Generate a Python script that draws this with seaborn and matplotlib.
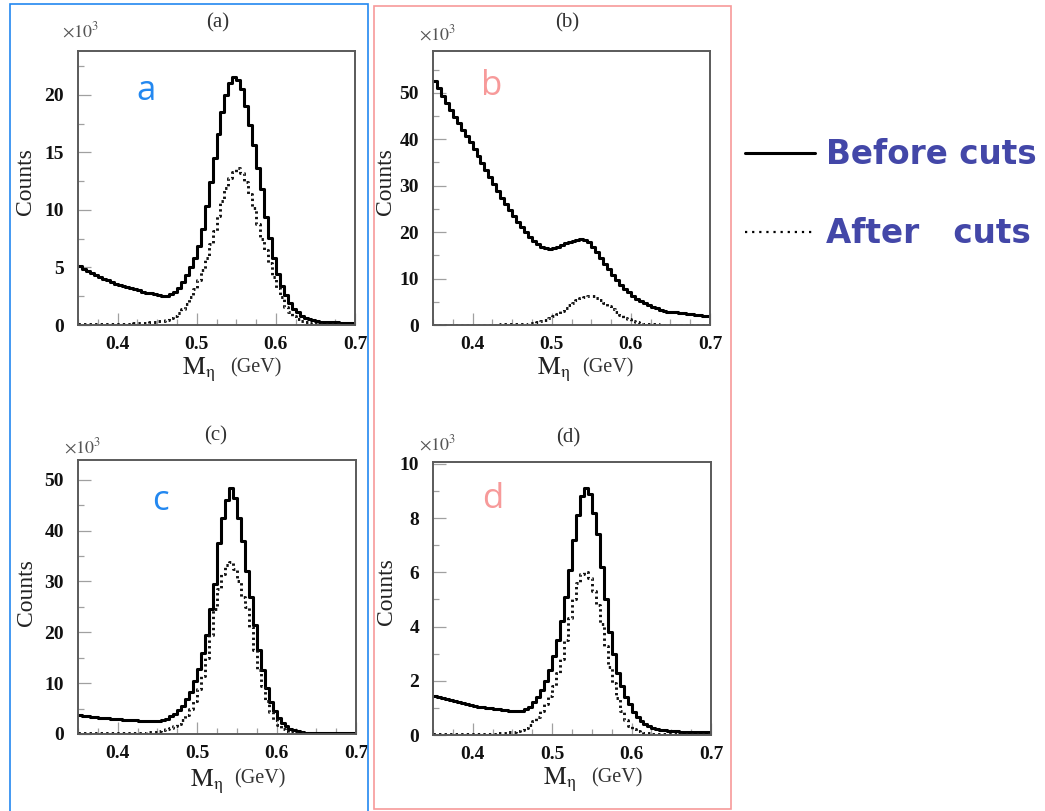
import numpy as np
import pandas as pd
import matplotlib
matplotlib.use("Agg")
import matplotlib.pyplot as plt
from matplotlib.lines import Line2D
from matplotlib.patches import Rectangle
from matplotlib.ticker import MultipleLocator, FormatStrFormatter
import seaborn as sns

# Invariant-mass binning (GeV): 70 bins of 5 MeV from 0.35 to 0.70
n_bins = 70
mass_lo = 0.35
bin_w = 0.005
bin_edges = [round(mass_lo + bin_w * i, 4) for i in range(n_bins + 1)]
bin_centers = [round(0.5 * (bin_edges[i] + bin_edges[i + 1]), 5) for i in range(n_bins)]

# Counts per bin, in units of 10^3
before_a = [5.1, 4.9, 4.7, 4.5, 4.3, 4.2, 4.0, 3.9, 3.75, 3.6,
            3.5, 3.4, 3.3, 3.2, 3.1, 3.0, 2.9, 2.8, 2.75, 2.65,
            2.6, 2.55, 2.55, 2.7, 2.9, 3.2, 3.7, 4.3, 5.0, 5.8,
            6.9, 8.3, 10.3, 12.4, 14.5, 16.6, 18.5, 20.0, 21.0, 21.5,
            21.3, 20.5, 19.0, 17.4, 15.6, 13.6, 11.8, 9.4, 7.6, 5.8,
            4.4, 3.4, 2.6, 1.9, 1.4, 1.1, 0.8, 0.6, 0.5, 0.4,
            0.35, 0.3, 0.27, 0.25, 0.23, 0.22, 0.21, 0.2, 0.2, 0.2]
after_a = [0.05, 0.05, 0.05, 0.06, 0.06, 0.07, 0.07, 0.08, 0.09, 0.1,
           0.1, 0.11, 0.12, 0.13, 0.15, 0.17, 0.19, 0.21, 0.24, 0.28,
           0.32, 0.38, 0.46, 0.58, 0.75, 1.0, 1.35, 1.8, 2.4, 3.1,
           3.9, 4.8, 5.8, 7.0, 8.2, 9.5, 10.8, 11.9, 12.8, 13.3,
           13.6, 13.2, 12.4, 11.4, 10.2, 8.8, 7.5, 6.5, 5.4, 4.2,
           3.2, 2.4, 1.6, 1.1, 0.8, 0.55, 0.38, 0.26, 0.18, 0.13,
           0.1, 0.08, 0.07, 0.06, 0.05, 0.05, 0.04, 0.04, 0.04, 0.04]

before_b = [52.5, 51.0, 49.4, 47.8, 46.3, 44.8, 43.4, 42.0, 40.6, 39.3,
            37.9, 36.3, 34.8, 33.3, 31.8, 30.3, 28.9, 27.4, 26.0, 24.7,
            23.4, 22.2, 21.0, 20.0, 19.0, 18.1, 17.4, 16.9, 16.5, 16.4,
            16.6, 16.9, 17.3, 17.6, 17.8, 18.0, 18.3, 18.5, 18.4, 17.8,
            16.9, 15.7, 14.5, 13.2, 12.0, 10.8, 9.7, 8.7, 7.8, 7.0,
            6.3, 5.7, 5.2, 4.7, 4.3, 3.9, 3.6, 3.3, 3.1, 2.9,
            2.8, 2.7, 2.6, 2.5, 2.4, 2.3, 2.2, 2.1, 2.0, 1.9]
after_b = [0.05, 0.05, 0.05, 0.05, 0.05, 0.05, 0.05, 0.05, 0.06, 0.06,
           0.06, 0.07, 0.07, 0.08, 0.08, 0.09, 0.1, 0.11, 0.12, 0.14,
           0.16, 0.19, 0.23, 0.28, 0.36, 0.47, 0.62, 0.85, 1.1, 1.45,
           1.9, 2.4, 3.0, 3.6, 4.2, 4.8, 5.35, 5.8, 6.1, 6.25,
           6.2, 5.9, 5.4, 4.8, 4.1, 3.4, 2.7, 2.1, 1.6, 1.2,
           0.85, 0.6, 0.42, 0.3, 0.22, 0.16, 0.12, 0.1, 0.08, 0.07,
           0.06, 0.05, 0.05, 0.05, 0.04, 0.04, 0.04, 0.04, 0.03, 0.03]

before_c = [3.7, 3.6, 3.5, 3.4, 3.3, 3.2, 3.1, 3.05, 3.0, 2.95,
            2.9, 2.85, 2.8, 2.75, 2.7, 2.65, 2.6, 2.55, 2.55, 2.6,
            2.65, 2.8, 3.0, 3.5, 4.0, 4.7, 5.5, 6.8, 8.3, 10.4,
            12.8, 16.0, 19.5, 24.5, 29.5, 37.5, 42.5, 46.0, 48.3, 46.5,
            42.5, 38.0, 32.0, 27.0, 21.5, 16.5, 12.5, 9.0, 6.3, 4.5,
            3.2, 2.2, 1.5, 1.0, 0.7, 0.5, 0.35, 0.28, 0.23, 0.2,
            0.18, 0.17, 0.16, 0.15, 0.15, 0.14, 0.14, 0.13, 0.13, 0.13]
after_c = [0.1, 0.1, 0.1, 0.1, 0.1, 0.1, 0.12, 0.12, 0.13, 0.14,
           0.15, 0.16, 0.18, 0.2, 0.22, 0.25, 0.28, 0.32, 0.38, 0.45,
           0.55, 0.7, 0.9, 1.15, 1.5, 2.0, 2.8, 3.8, 5.0, 6.5,
           8.8, 11.5, 15.0, 19.5, 24.5, 28.5, 31.5, 33.3, 33.8, 32.5,
           30.0, 27.0, 25.0, 21.0, 16.5, 12.5, 9.5, 6.5, 4.3, 2.8,
           1.7, 1.0, 0.6, 0.35, 0.22, 0.15, 0.11, 0.09, 0.08, 0.07,
           0.06, 0.06, 0.05, 0.05, 0.05, 0.05, 0.04, 0.04, 0.04, 0.04]

before_d = [1.45, 1.42, 1.38, 1.34, 1.3, 1.26, 1.22, 1.18, 1.14, 1.1,
            1.08, 1.05, 1.02, 1.0, 0.98, 0.96, 0.95, 0.93, 0.92, 0.9,
            0.88, 0.88, 0.9, 0.95, 1.05, 1.2, 1.4, 1.65, 2.0, 2.4,
            2.9, 3.5, 4.2, 5.1, 6.1, 7.2, 8.1, 8.8, 9.1, 8.9,
            8.2, 7.4, 6.2, 5.0, 3.8, 3.0, 2.3, 1.8, 1.4, 1.15,
            0.85, 0.65, 0.5, 0.4, 0.32, 0.26, 0.22, 0.19, 0.17, 0.15,
            0.14, 0.13, 0.12, 0.12, 0.11, 0.11, 0.1, 0.1, 0.1, 0.1]
after_d = [0.02, 0.02, 0.02, 0.02, 0.02, 0.02, 0.02, 0.03, 0.03, 0.03,
           0.03, 0.04, 0.04, 0.04, 0.05, 0.05, 0.06, 0.07, 0.08, 0.1,
           0.12, 0.15, 0.2, 0.27, 0.37, 0.5, 0.68, 0.9, 1.15, 1.45,
           1.8, 2.3, 2.8, 3.5, 4.3, 5.0, 5.6, 5.95, 6.0, 5.8,
           5.3, 4.8, 4.1, 3.3, 2.5, 1.9, 1.35, 0.9, 0.55, 0.35,
           0.22, 0.14, 0.1, 0.08, 0.06, 0.05, 0.04, 0.04, 0.03, 0.03,
           0.03, 0.03, 0.02, 0.02, 0.02, 0.02, 0.02, 0.02, 0.02, 0.02]

panel_titles = ["(a)", "(b)", "(c)", "(d)"]
panel_tags = ["a", "b", "c", "d"]
x_ticks = [0.4, 0.5, 0.6, 0.7]
legend_labels = ["Before cuts", "After   cuts"]

sns.set_theme(style="white")
plt.rcParams["font.family"] = ["Liberation Serif", "DejaVu Serif"]
plt.rcParams["mathtext.fontset"] = "stix"

W, H = 1045, 811
fig = plt.figure(figsize=(W / 100, H / 100), dpi=100)
fig.patch.set_facecolor("white")


def fx(px):
    return px / W


def fy(py):
    return 1 - py / H


BLUE = "#2388f0"
PINK = "#f79a9a"
INK = "#4347a8"
DOTS = (0, (0.8, 1.1))

panels = [
    # box = (left, top, right, bottom) in pixels, plus per-panel layout details
    dict(box=(78, 51, 355, 325), before=before_a, after=after_a, ymax=23.8, major=5, minor=2.5,
         title=(218, 23), exp=(62, 37), ylab=(-0.150, 0.522), mx=(0.375, 0.549, -0.182),
         tag=(146, 100), tagcolor=BLUE),
    dict(box=(433, 51, 710, 325), before=before_b, after=after_b, ymax=59.0, major=10, minor=5,
         title=(567, 23), exp=(419, 40), ylab=(-0.132, 0.522), mx=(0.375, 0.540, -0.182),
         tag=(492, 95), tagcolor=PINK),
    dict(box=(78, 460, 356, 734), before=before_c, after=after_c, ymax=53.9, major=10, minor=5,
         title=(216, 436), exp=(64, 453), ylab=(-0.149, 0.518), mx=(0.403, 0.560, -0.190),
         tag=(160, 510), tagcolor=BLUE),
    dict(box=(433, 462, 711, 735), before=before_d, after=after_d, ymax=10.07, major=2, minor=1,
         title=(568, 438), exp=(419, 450), ylab=(-0.131, 0.524), mx=(0.396, 0.568, -0.182),
         tag=(493, 508), tagcolor=PINK),
]

for p, title, tag in zip(panels, panel_titles, panel_tags):
    l, t, r, b = p["box"]
    ax = fig.add_axes([fx(l), fy(b), (r - l) / W, (b - t) / H])
    df = pd.DataFrame({"mass": bin_centers, "before": p["before"], "after": p["after"]})
    sns.histplot(data=df, x="mass", weights="before", bins=bin_edges, element="step",
                 fill=False, color="black", linewidth=2.2, ax=ax)
    sns.histplot(data=df, x="mass", weights="after", bins=bin_edges, element="step",
                 fill=False, color="#111111", linewidth=2.1, linestyle=DOTS, ax=ax)

    ax.set_xlim(0.35, 0.70)
    ax.set_ylim(0, p["ymax"])
    ax.set_xticks(x_ticks)
    ax.xaxis.set_major_formatter(FormatStrFormatter("%.1f"))
    ax.xaxis.set_minor_locator(MultipleLocator(0.025))
    ax.yaxis.set_major_locator(MultipleLocator(p["major"]))
    ax.yaxis.set_minor_locator(MultipleLocator(p["minor"]))
    ax.yaxis.set_major_formatter(FormatStrFormatter("%d"))
    ax.tick_params(which="both", direction="in", color="#a0a0a0", width=0.9,
                   labelsize=14, labelcolor="#111111", top=False, right=False,
                   bottom=True, left=True)
    ax.tick_params(which="major", length=9)
    ax.tick_params(which="minor", length=4.5)
    ax.tick_params(axis="y", pad=10)
    ax.tick_params(axis="x", pad=8)
    for lab in ax.get_xticklabels() + ax.get_yticklabels():
        lab.set_fontweight("bold")
    for s in ax.spines.values():
        s.set_color("#5a5a5a")
        s.set_linewidth(1.4)

    ax.set_xlabel("")
    ax.set_ylabel("Counts", fontsize=17, color="#222222")
    ax.yaxis.set_label_coords(*p["ylab"])

    mx0, gx0, my = p["mx"]
    ax.text(mx0, my, r"$\mathrm{M}_{\mathrm{\eta}}$", transform=ax.transAxes,
            fontsize=18.5, va="baseline", ha="left", color="#222222")
    ax.text(gx0, my + 0.008, "(GeV)", transform=ax.transAxes, fontsize=14.5,
            va="baseline", ha="left", color="#333333")

    fig.text(fx(p["title"][0]), fy(p["title"][1]), title, fontsize=15,
             ha="center", va="center", color="#333333")
    fig.text(fx(p["exp"][0]), fy(p["exp"][1]), r"$\times10^{3}$", fontsize=13,
             ha="left", va="baseline", color="#555555")
    fig.text(fx(p["tag"][0]), fy(p["tag"][1]), tag, fontsize=25, family="Open Sans",
             ha="center", va="baseline", color=p["tagcolor"])

# Column frames
fig.add_artist(Rectangle((fx(10), -0.01), (368 - 10) / W, fy(4) + 0.01,
                         transform=fig.transFigure, fill=False, edgecolor=BLUE, linewidth=1.2))
fig.add_artist(Rectangle((fx(374), fy(809)), (731 - 374) / W, (809 - 6) / H,
                         transform=fig.transFigure, fill=False, edgecolor=PINK, linewidth=1.2))

# Key for the two line styles
handles = [Line2D([], [], color="black", linewidth=2.2),
           Line2D([], [], color="black", linewidth=1.6, linestyle=(0, (1.0, 2.2)))]
fig.legend(handles, legend_labels, loc="upper left", bbox_to_anchor=(fx(745), fy(138)),
           frameon=False, prop=dict(family="DejaVu Sans", weight="bold", size=23.5),
           labelcolor=INK, handlelength=2.15, handletextpad=0.34, labelspacing=1.42,
           borderpad=0, borderaxespad=0)

fig.savefig("out.png", dpi=100, facecolor="white")
